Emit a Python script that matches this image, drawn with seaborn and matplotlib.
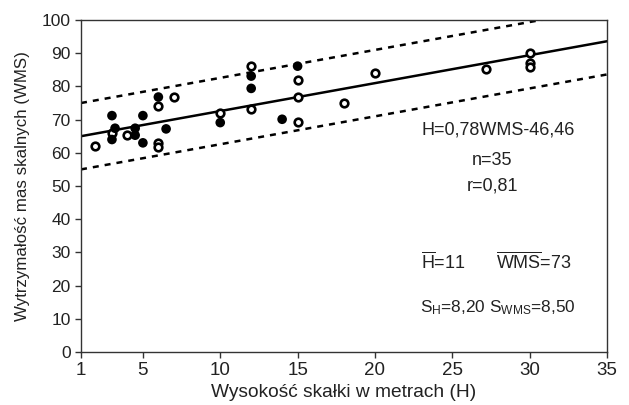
import numpy as np
import pandas as pd
import matplotlib
matplotlib.use('Agg')
import matplotlib.pyplot as plt
import seaborn as sns

# points: filled and open markers
filled_h = [3.0, 3.0, 3.2, 4.5, 4.5, 5.0, 5.0, 6.0, 6.5, 10.0, 12.0, 12.0, 14.0, 15.0]
filled_wms = [71.2, 64.0, 67.4, 67.4, 65.3, 71.2, 63.0, 76.8, 67.2, 69.1, 83.1, 79.4, 70.1, 86.1]

open_h = [1.9, 3.0, 4.0, 6.0, 6.0, 6.0, 7.0, 10.0, 12.0, 12.0, 15.0, 15.0, 15.0,
          18.0, 20.0, 27.2, 30.0, 30.0, 30.0]
open_wms = [62.0, 66.1, 65.3, 74.1, 63.0, 61.7, 76.9, 72.1, 86.1, 73.1, 81.9, 76.9, 69.4,
            74.9, 84.1, 85.2, 90.0, 87.2, 85.9]

# regression line and band
line_h = [1, 35]
fit_wms = [65.0, 93.6]
upper_wms = [75.0, 103.6]
lower_wms = [55.0, 83.6]

x_ticks = [1, 5, 10, 15, 20, 25, 30, 35]
y_ticks = list(range(0, 101, 10))

sns.set_theme(style='ticks')
plt.rcParams['font.family'] = ['Liberation Sans', 'DejaVu Sans']
plt.rcParams['mathtext.fontset'] = 'custom'
plt.rcParams['mathtext.rm'] = 'Liberation Sans'
plt.rcParams['mathtext.it'] = 'Liberation Sans:italic'

fig = plt.figure(figsize=(6.29, 4.05), dpi=100)
ax = fig.add_axes([0.1288, 0.1309, 0.8362, 0.8197])

df_line = pd.DataFrame({'h': line_h, 'fit': fit_wms, 'up': upper_wms, 'lo': lower_wms})
sns.lineplot(data=df_line, x='h', y='fit', color='black', linewidth=1.8, ax=ax)
sns.lineplot(data=df_line, x='h', y='up', color='black', linewidth=1.8, ax=ax,
             linestyle=(0, (2.4, 2.4)))
sns.lineplot(data=df_line, x='h', y='lo', color='black', linewidth=1.8, ax=ax,
             linestyle=(0, (2.4, 2.4)))

sns.scatterplot(x=open_h, y=open_wms, s=30, facecolor='white', edgecolor='black',
                linewidth=1.9, ax=ax, zorder=3)
sns.scatterplot(x=filled_h, y=filled_wms, s=48, color='black', edgecolor='none',
                ax=ax, zorder=4)

ax.set_xlim(1, 35)
ax.set_ylim(0, 100)
ax.set_xticks(x_ticks)
ax.set_yticks(y_ticks)
ax.tick_params(axis='x', labelsize=13.5)
ax.tick_params(axis='y', labelsize=12.5)
ax.tick_params(length=4, width=1, color='#333333', labelcolor='#222222')
for sp in ax.spines.values():
    sp.set_visible(True)
    sp.set_color('#333333')
    sp.set_linewidth(1)

ax.set_xlabel('Wysokość skałki w metrach (H)', fontsize=13.8, color='#222222', labelpad=3)
ax.set_ylabel('Wytrzymałość mas skalnych (WMS)', fontsize=12.2, color='#222222', labelpad=8)

tkw = dict(fontsize=13, color='#222222')
ax.text(27.95, 66.9, 'H=0,78WMS-46,46', ha='center', va='center', **tkw)
ax.text(27.6, 57.8, 'n=35', ha='center', va='center', **tkw)
ax.text(27.6, 50.0, 'r=0,81', ha='center', va='center', **tkw)
ax.text(23.0, 27.0, r'$\overline{\mathrm{H}}$=11', ha='left', va='center', **tkw)
ax.text(27.85, 27.0, r'$\overline{\mathrm{WMS}}$=73', ha='left', va='center', **tkw)
ax.text(22.9, 13.3, r'S$_{\mathrm{H}}$=8,20 S$_{\mathrm{WMS}}$=8,50', ha='left', va='center',
        fontsize=12.4, color='#222222')

fig.savefig('out.png', dpi=100)
